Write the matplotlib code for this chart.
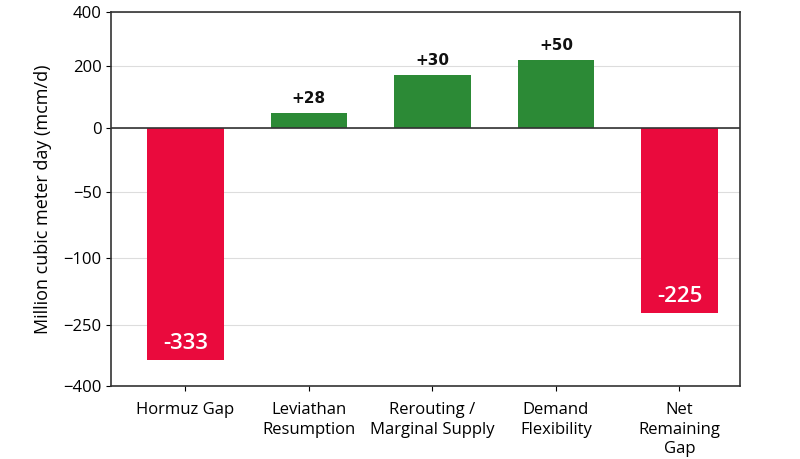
import numpy as np
import matplotlib
matplotlib.use("Agg")
import matplotlib.pyplot as plt

plt.rcParams['font.family'] = ['Open Sans', 'DejaVu Sans']

categories = ["Hormuz Gap", "Leviathan\nResumption", "Rerouting /\nMarginal Supply",
              "Demand\nFlexibility", "Net\nRemaining\nGap"]
bar_values = [-336, 49, 170, 222, -223]
bar_labels = ["-333", "+28", "+30", "+50", "-225"]

# the original axis is not linear: ticks sit at these values
tick_values = [-400, -250, -100, -50, 0, 200, 400]
tick_pos = [0, 61, 127, 193, 257, 318, 372]


def fwd(v):
    return np.interp(v, tick_values, tick_pos)


def inv(p):
    return np.interp(p, tick_pos, tick_values)


red = "#EA0A3D"
green = "#2C8A36"
colors = [red if v < 0 else green for v in bar_values]

fig = plt.figure(figsize=(8, 4.59), dpi=100)
ax = fig.add_axes([0.139, 0.159, 0.786, 0.815])
ax.set_yscale('function', functions=(fwd, inv))

x = np.arange(len(categories))
bars = ax.bar(x, bar_values, width=0.62, color=colors, zorder=3)

for b, v, lab in zip(bars, bar_values, bar_labels):
    cx = b.get_x() + b.get_width() / 2
    if v > 0:
        ax.annotate(lab, (cx, v), xytext=(0, 5), textcoords='offset points',
                    ha='center', va='bottom', fontsize=11, fontweight='bold',
                    family='DejaVu Sans', color='#111111')
    else:
        ax.annotate(lab, (cx, v), xytext=(0, 4), textcoords='offset points',
                    ha='center', va='bottom', fontsize=16, fontweight='semibold', color='white',
                    zorder=4)

ax.set_ylim(-400, 400)
ax.set_xlim(-0.6, 4.49)
ax.set_yticks(tick_values)
ax.set_yticklabels([str(t) if t >= 0 else "\u2212" + str(-t) for t in tick_values], fontsize=12)
ax.set_xticks(x)
ax.set_xticklabels(categories, fontsize=12, linespacing=1.3)
ax.tick_params(axis='x', pad=8)
ax.yaxis.grid(True, color='#dddddd', linewidth=0.8, zorder=0)
ax.axhline(0, color='#333333', linewidth=1.2, zorder=4)
for s in ax.spines.values():
    s.set_color('#333333')
    s.set_linewidth(1.2)
ax.set_ylabel("Million cubic meter day (mcm/d)", fontsize=13, labelpad=8)

fig.savefig("out.png", dpi=100)
